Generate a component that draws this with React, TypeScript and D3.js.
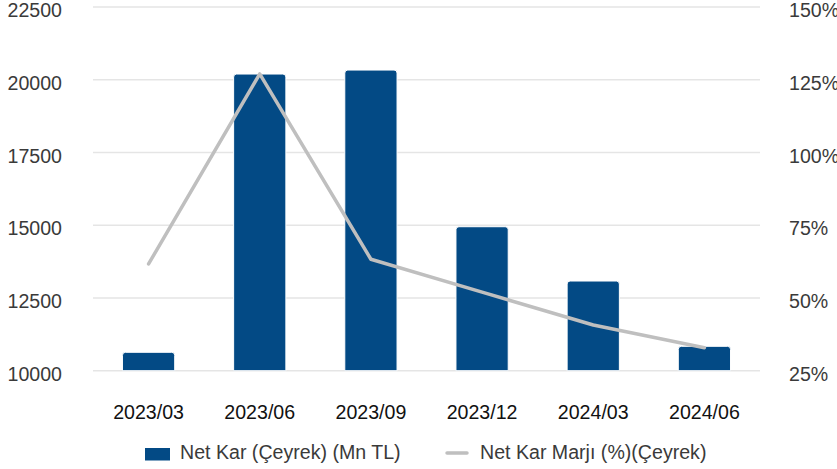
import * as d3 from "d3";

const categories = ["2023/03", "2023/06", "2023/09", "2023/12", "2024/03", "2024/06"];
const netKar = [10632, 20196, 20333, 14948, 13082, 10838];
const netKarMarji = [61.7, 127, 63.3, 52, 40.7, 32.9];
const leftTicks = [10000, 12500, 15000, 17500, 20000, 22500];
const rightTicks = [25, 50, 75, 100, 125, 150];
const barLabel = "Net Kar (Çeyrek) (Mn TL)";
const lineLabel = "Net Kar Marjı (%)(Çeyrek)";

const W = 837;
const H = 469;
const PLOT = { left: 93, right: 760, top: 7, bottom: 370.7 };
const BAR_COLOR = "#034a85";
const LINE_COLOR = "#bfbfbf";
const FONT = "'Liberation Sans', Arial, sans-serif";
const FS = 19.6;

export default function App() {
  const x = d3.scaleBand<string>().domain(categories).range([PLOT.left, PLOT.right]);
  const yL = d3.scaleLinear().domain([10000, 22500]).range([PLOT.bottom, PLOT.top]);
  const yR = d3.scaleLinear().domain([25, 150]).range([PLOT.bottom, PLOT.top]);

  const barW = x.bandwidth() * 0.47;
  const r = 3;

  const line = d3
    .line<number>()
    .x((_, i) => x(categories[i])! + x.bandwidth() / 2)
    .y((d) => yR(d));

  const barPath = (cx: number, top: number, bottom: number) => {
    const x0 = cx - barW / 2;
    const x1 = cx + barW / 2;
    return `M${x0},${bottom}V${top + r}Q${x0},${top} ${x0 + r},${top}H${x1 - r}Q${x1},${top} ${x1},${top + r}V${bottom}Z`;
  };

  return (
    <svg
      width={W}
      height={H}
      style={{ position: "absolute", left: 0, top: 0, background: "#fff" }}
      fontFamily={FONT}
    >
      {leftTicks.map((t) => (
        <line
          key={t}
          x1={PLOT.left}
          x2={PLOT.right}
          y1={yL(t)}
          y2={yL(t)}
          stroke="#e5e5e5"
          strokeWidth={1.5}
        />
      ))}
      {leftTicks.map((t) => (
        <text key={t} x={62} y={yL(t) + 5} textAnchor="end" dominantBaseline="middle" fontSize={FS} fill="#3a3a3a">
          {t}
        </text>
      ))}
      {rightTicks.map((t) => (
        <text key={t} x={789} y={yR(t) + 5} dominantBaseline="middle" fontSize={FS} fill="#3a3a3a">
          {t}%
        </text>
      ))}
      {netKar.map((v, i) => (
        <path
          key={categories[i]}
          d={barPath(x(categories[i])! + x.bandwidth() / 2, yL(v), yL(10000))}
          fill={BAR_COLOR}
          stroke="#fff"
          strokeWidth={1}
        />
      ))}
      <path
        d={line(netKarMarji) ?? ""}
        fill="none"
        stroke={LINE_COLOR}
        strokeWidth={3.5}
        strokeLinejoin="round"
        strokeLinecap="round"
      />
      {categories.map((c) => (
        <text
          key={c}
          x={x(c)! + x.bandwidth() / 2}
          y={414}
          textAnchor="middle"
          dominantBaseline="middle"
          fontSize={FS}
          fill="#111"
        >
          {c}
        </text>
      ))}
      <g>
        <rect x={145} y={448} width={25} height={12.5} fill={BAR_COLOR} />
        <text x={180} y={454} dominantBaseline="middle" fontSize={FS} fill="#3a3a3a">
          {barLabel}
        </text>
        <line x1={447} x2={467} y1={453} y2={453} stroke={LINE_COLOR} strokeWidth={3.5} strokeLinecap="round" />
        <text x={480} y={454} dominantBaseline="middle" fontSize={FS} fill="#3a3a3a">
          {lineLabel}
        </text>
      </g>
    </svg>
  );
}
